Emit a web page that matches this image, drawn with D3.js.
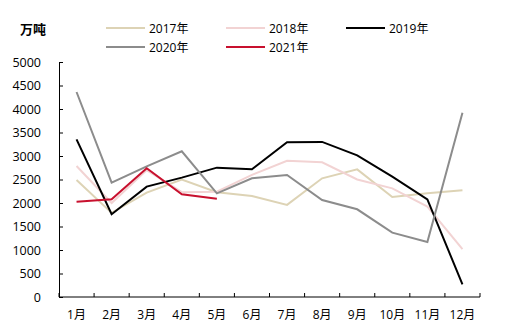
<!DOCTYPE html>
<html><head><meta charset="utf-8">
<script src="https://cdn.jsdelivr.net/npm/d3@7"></script>
<style>body{margin:0;background:#fff}svg{display:block}text{font-family:"Open Sans","Liberation Sans","Noto Sans CJK SC",sans-serif}</style>
</head><body><svg id="c" width="510" height="329"></svg>
<script>
const months = ["1月","2月","3月","4月","5月","6月","7月","8月","9月","10月","11月","12月"];
const yTicks = [0,500,1000,1500,2000,2500,3000,3500,4000,4500,5000];
const unitLabel = "万吨";
const s2017 = [2490,1790,2220,2500,2230,2150,1960,2525,2716,2128,2206,2270];
const s2018 = [2787,2000,2700,2230,2240,2600,2900,2866,2500,2312,1922,1021];
const s2019 = [3355,1760,2348,2540,2752,2716,3291,3300,3014,2560,2078,270];
const s2020 = [4362,2432,2780,3100,2206,2525,2596,2064,1866,1369,1170,3922];
const s2021 = [2028,2078,2738,2184,2092];
const seriesNames = ["2017年","2018年","2019年","2020年","2021年"];
const colors = ["#ddd3b5","#f2d3d3","#000000","#8c8c8c","#c8102e"];
const seriesData = [s2017,s2018,s2019,s2020,s2021];

const svg = d3.select("#c");
const x = d3.scaleBand().domain(months).range([59,480]);
const y = d3.scaleLinear().domain([0,5000]).range([297,62]);

const ya = svg.append("g").attr("transform","translate(59,0)")
  .call(d3.axisLeft(y).tickValues(yTicks).tickFormat(d3.format("d")).tickSize(4).tickSizeOuter(0).tickPadding(14));
ya.select(".domain").attr("stroke","#000");
ya.selectAll(".tick line").attr("x1",0).attr("x2",4);
ya.selectAll("text").attr("font-size",12.5).attr("fill","#000");

const xa = svg.append("g").attr("transform","translate(0,297)")
  .call(d3.axisBottom(x).tickSize(0).tickPadding(13));
xa.select(".domain").remove();
xa.selectAll("text").attr("font-size",12).attr("fill","#000");
svg.append("line").attr("x1",59).attr("x2",480).attr("y1",297).attr("y2",297).attr("stroke","#000");
const bounds = months.map(m=>x(m)).concat([480]);
svg.selectAll(".xt").data(bounds).enter().append("line")
  .attr("x1",d=>d).attr("x2",d=>d).attr("y1",297).attr("y2",293).attr("stroke","#000");

const line = d3.line().x((d,i)=>x(months[i])+x.bandwidth()/2).y(d=>y(d));
seriesData.forEach((s,k)=>{
  svg.append("path").attr("d",line(s)).attr("fill","none")
    .attr("stroke",colors[k]).attr("stroke-width",2);
});

svg.append("text").attr("x",20).attr("y",34).attr("font-size",13).attr("font-weight","bold").text(unitLabel);

const legPos = [[106,28],[226,28],[346,28],[106,47],[226,47]];
seriesNames.forEach((n,k)=>{
  const [lx,ly] = legPos[k];
  svg.append("line").attr("x1",lx).attr("x2",lx+39).attr("y1",ly).attr("y2",ly)
    .attr("stroke",colors[k]).attr("stroke-width",2);
  svg.append("text").attr("x",lx+43).attr("y",ly+4.5).attr("font-size",12).text(n);
});
</script></body></html>
